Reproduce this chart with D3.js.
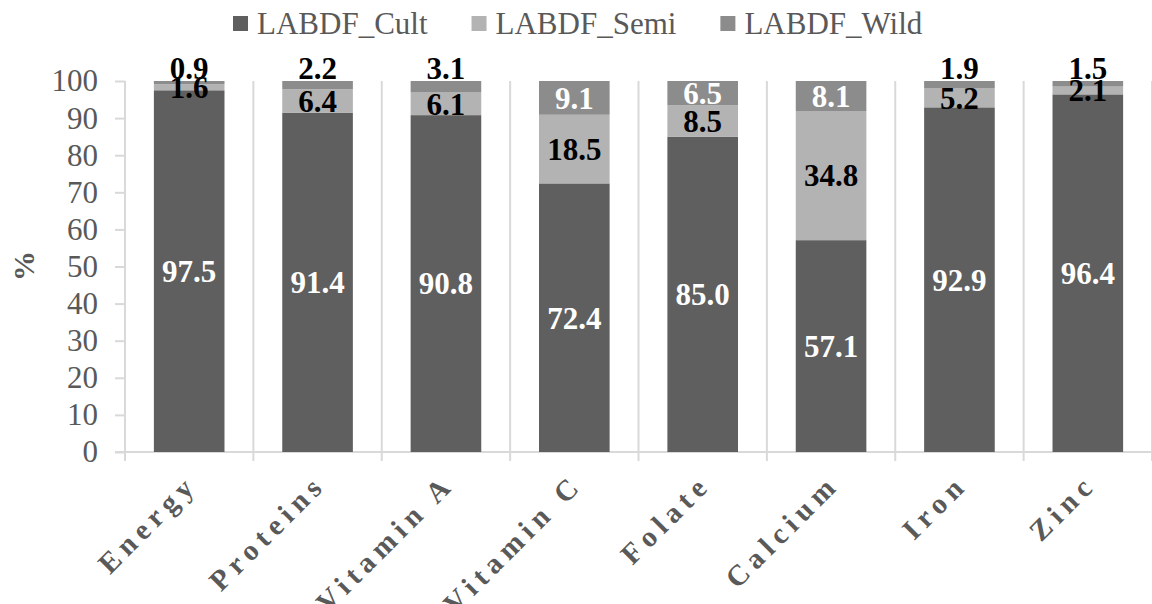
<!DOCTYPE html>
<html>
<head>
<meta charset="utf-8">
<script src="https://cdn.jsdelivr.net/npm/d3@7"></script>
<style>
  body { margin: 0; background: #fff; }
</style>
</head>
<body>
<div id="chart"></div>
<script>
// data
var nutrients = ["Energy", "Proteins", "Vitamin A", "Vitamin C", "Folate", "Calcium", "Iron", "Zinc"];
var cult = [97.5, 91.4, 90.8, 72.4, 85.0, 57.1, 92.9, 96.4];
var semi = [1.6, 6.4, 6.1, 18.5, 8.5, 34.8, 5.2, 2.1];
var wild = [0.9, 2.2, 3.1, 9.1, 6.5, 8.1, 1.9, 1.5];
var seriesNames = ["LABDF_Cult", "LABDF_Semi", "LABDF_Wild"];
var yTicks = [0, 10, 20, 30, 40, 50, 60, 70, 80, 90, 100];

const W = 1152, H = 604;
const FONT = "'Liberation Serif', 'Times New Roman', serif";
const colors = ["#5f5f5f", "#b3b3b3", "#8c8c8c"];
const gridColor = "#d9d9d9", textGrey = "#595959";

var svg = d3.select("#chart").append("svg")
    .attr("width", W)
    .attr("height", H)
    .style("font-family", FONT);

var x = d3.scaleBand()
    .domain(nutrients)
    .range([125, 1152])
    .paddingInner(0.45)
    .paddingOuter(0.225);

var y = d3.scaleLinear()
    .domain([0, 100])
    .range([452, 81]);

// build stacked table
var table = nutrients.map(function(n, i) {
    return { name: n, LABDF_Cult: cult[i], LABDF_Semi: semi[i], LABDF_Wild: wild[i] };
});
var stacked = d3.stack().keys(seriesNames)(table);

// vertical separators between categories
var step = x.step();
var bounds = d3.range(nutrients.length + 1).map(function(i) { return x.range()[0] + i * step; });
svg.append("g")
    .selectAll("line")
    .data(bounds)
    .join("line")
    .attr("x1", function(d) { return d; })
    .attr("x2", function(d) { return d; })
    .attr("y1", y(100))
    .attr("y2", y(0) + 9)
    .attr("stroke", gridColor)
    .attr("stroke-width", 2);

// y axis
var yAxis = svg.append("g")
    .attr("transform", "translate(125,0)")
    .call(d3.axisLeft(y).tickValues(yTicks).tickSize(10).tickPadding(17));
yAxis.attr("font-family", null).attr("font-size", null);
yAxis.select(".domain").remove();
yAxis.selectAll(".tick line").attr("stroke", gridColor).attr("stroke-width", 2);
yAxis.selectAll(".tick text")
    .attr("fill", textGrey)
    .style("font-size", "31px")
    .style("font-family", FONT);

// x axis baseline
svg.append("line")
    .attr("x1", 115)
    .attr("x2", W)
    .attr("y1", y(0))
    .attr("y2", y(0))
    .attr("stroke", gridColor)
    .attr("stroke-width", 2);

// bars
svg.append("g")
    .selectAll("g")
    .data(stacked)
    .join("g")
    .attr("fill", function(d, i) { return colors[i]; })
    .selectAll("rect")
    .data(function(d) { return d; })
    .join("rect")
    .attr("x", function(d) { return x(d.data.name); })
    .attr("width", x.bandwidth())
    .attr("y", function(d) { return y(d[1]); })
    .attr("height", function(d) { return y(d[0]) - y(d[1]); });

// data labels
stacked.forEach(function(layer, li) {
    svg.append("g")
        .selectAll("text")
        .data(layer)
        .join("text")
        .attr("x", function(d) { return x(d.data.name) + x.bandwidth() / 2; })
        .attr("y", function(d) {
            var v = d[1] - d[0];
            if (li == 2 && v < 4) return y(100) - 13;
            return y((d[0] + d[1]) / 2);
        })
        .attr("dy", "0.35em")
        .attr("text-anchor", "middle")
        .style("font-family", FONT)
        .style("font-size", "31px")
        .style("font-weight", "bold")
        .attr("fill", function(d) {
            var v = d[1] - d[0];
            if (li == 0) return "#fff";
            if (li == 2 && v > 5) return "#fff";
            return "#000";
        })
        .text(function(d) { return d3.format(".1f")(d[1] - d[0]); });
});

// x labels, rotated
svg.append("g")
    .selectAll("text")
    .data(nutrients)
    .join("text")
    .attr("transform", function(d) {
        return "translate(" + (x(d) + x.bandwidth() / 2 + 10) + ",486) rotate(-45)";
    })
    .attr("text-anchor", "end")
    .attr("fill", textGrey)
    .style("font-family", FONT)
    .style("font-size", "29px")
    .style("font-weight", "bold")
    .style("letter-spacing", "6px")
    .text(function(d) { return d; });

// y title
svg.append("text")
    .attr("transform", "translate(34,266) rotate(-90)")
    .attr("text-anchor", "middle")
    .attr("fill", textGrey)
    .style("font-family", FONT)
    .style("font-size", "30px")
    .style("font-weight", "bold")
    .text("%");

// legend
var legend = svg.append("g");
var lx = 233;
seriesNames.forEach(function(name, i) {
    legend.append("rect")
        .attr("x", lx)
        .attr("y", 16)
        .attr("width", 15)
        .attr("height", 15)
        .attr("fill", colors[i]);
    var t = legend.append("text")
        .attr("x", lx + 24)
        .attr("y", 34)
        .attr("fill", textGrey)
        .style("font-family", FONT)
        .style("font-size", "31px")
        .text(name);
    lx = lx + 24 + t.node().getComputedTextLength() + 44;
});
</script>
</body>
</html>
